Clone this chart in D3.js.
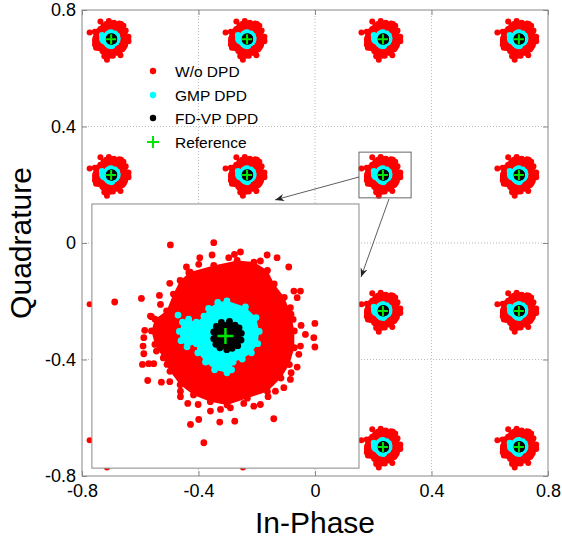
<!DOCTYPE html>
<html><head><meta charset="utf-8">
<script src="https://cdn.jsdelivr.net/npm/d3@7"></script>
<style>body{margin:0;background:#fff} svg{display:block} text{font-family:"Liberation Sans",Arial,Helvetica,sans-serif}</style>
</head><body><svg id="c" width="562" height="541"></svg>
<script>
// ---- data ----
const levels = [-0.7, -0.2333, 0.2333, 0.7];
const tickValues = [-0.8, -0.4, 0, 0.4, 0.8];
const tickLabels = ["-0.8", "-0.4", "0", "0.4", "0.8"];
const gridValues = [-0.4, 0, 0.4];
const seriesNames = ["W/o DPD", "GMP DPD", "FD-VP DPD", "Reference"];
const seriesColors = ["#ff0000", "#00ffff", "#000000", "#00e600"];
// offsets (dI, dQ) of the received symbols around each reference point
const redCore = [[-0.0235,0.0426],[-0.0078,0.0470],[0.0078,0.0504],[0.0190,0.0493],[0.0280,0.0437],[0.0325,0.0347],[0.0392,0.0258],[0.0437,0.0146],[0.0459,0.0034],[0.0459,-0.0078],[0.0426,-0.0190],[0.0370,-0.0280],[0.0280,-0.0370],[0.0146,-0.0414],[0.0011,-0.0459],[-0.0101,-0.0437],[-0.0213,-0.0392],[-0.0302,-0.0325],[-0.0370,-0.0235],[-0.0414,-0.0146],[-0.0470,-0.0056],[-0.0493,0.0034],[-0.0470,0.0112],[-0.0392,0.0168],[-0.0347,0.0280],[-0.0302,0.0370]];
const redScatter = [[-0.0367,0.0607],[-0.0078,0.0622],[-0.0738,0.0227],[-0.0560,0.0251],[-0.0440,0.0271],[-0.0493,0.0129],[-0.0538,0.0038],[-0.0544,-0.0011],[-0.0549,-0.0067],[-0.0544,-0.0118],[-0.0511,-0.0184],[-0.0478,-0.0184],[-0.0553,-0.0189],[-0.0518,-0.0296],[-0.0427,-0.0307],[-0.0371,-0.0304],[-0.0300,-0.0404],[-0.0251,-0.0449],[-0.0182,-0.0456],[-0.0233,-0.0589],[-0.0178,-0.0556],[-0.0038,-0.0573],[0.0062,-0.0567],[-0.0144,-0.0711],[-0.0100,-0.0500],[-0.0033,-0.0489],[0.0033,-0.0478],[0.0122,-0.0449],[0.0189,-0.0467],[0.0233,-0.0456],[0.0322,-0.0551],[0.0284,-0.0404],[0.0333,-0.0367],[0.0389,-0.0344],[0.0433,-0.0289],[0.0438,-0.0244],[0.0478,-0.0207],[0.0489,-0.0122],[0.0500,-0.0067],[0.0533,0.0011],[0.0589,-0.0011],[0.0596,0.0084],[0.0596,-0.0073],[0.0504,0.0071],[0.0422,0.0460],[0.0344,0.0522],[0.0278,0.0540],[0.0233,0.0500],[0.0100,0.0560],[0.0060,0.0544],[0.0022,0.0522],[-0.0089,0.0540],[-0.0171,0.0522],[-0.0178,0.0478],[-0.0260,0.0460],[-0.0244,0.0422],[-0.0371,0.0351],[-0.0433,0.0211],[-0.0500,0.0133],[0.0500,0.0300],[0.0456,0.0300],[0.0478,0.0256],[0.0433,0.0189],[0.0451,0.0111],[-0.0460,-0.0100],[-0.0389,-0.0189],[-0.0300,-0.0367]];
const cyanCore = [[0.0010,0.0235],[0.0133,0.0194],[0.0204,0.0123],[0.0225,0.0031],[0.0215,-0.0051],[0.0173,-0.0112],[0.0112,-0.0153],[0.0051,-0.0173],[0.0041,-0.0225],[0.0010,-0.0245],[-0.0072,-0.0225],[-0.0133,-0.0173],[-0.0184,-0.0112],[-0.0194,-0.0051],[-0.0256,-0.0072],[-0.0296,-0.0031],[-0.0307,0.0031],[-0.0286,0.0092],[-0.0245,0.0112],[-0.0194,0.0092],[-0.0143,0.0133],[-0.0112,0.0184],[-0.0051,0.0225]];
const cyanScatter = [[-0.0316,0.0140]];
const blackCore = [[-0.0027,0.0091],[0.0027,0.0097],[0.0064,0.0073],[0.0091,0.0055],[0.0106,0.0018],[0.0104,-0.0027],[0.0082,-0.0064],[0.0045,-0.0082],[0.0009,-0.0091],[-0.0037,-0.0078],[-0.0064,-0.0055],[-0.0078,-0.0018],[-0.0078,0.0027],[-0.0060,0.0064]];
const blackScatter = [];
// zoom box, inset placement and arrows (data coordinates of main axes)
const zoomCenter = [0.2333, 0.2333];
const zoomBoxI = [0.151, 0.330];
const zoomBoxQ = [0.155, 0.312];
const insetPosI = [-0.766, 0.151];
const insetPosQ = [-0.773, 0.134];
const insetDomainI = [0.1443, 0.3223];
const insetDomainQ = [0.1453, 0.3213];
const arrows = [[[0.151, 0.2266], [-0.137, 0.148]], [[0.254, 0.151], [0.158, -0.117]]];

// ---- drawing ----
const svg = d3.select("#c");
const x = d3.scaleLinear([-0.8, 0.8], [82, 548]);
const y = d3.scaleLinear([-0.8, 0.8], [476, 10]);

svg.append("rect").attr("width", 562).attr("height", 541).attr("fill", "#fff");

const defs = svg.append("defs");
defs.append("clipPath").attr("id", "clipMain").append("rect")
  .attr("x", x(-0.8)).attr("y", y(0.8)).attr("width", x(0.8) - x(-0.8)).attr("height", y(-0.8) - y(0.8));
defs.append("marker").attr("id", "arr").attr("viewBox", "0 0 10 10").attr("refX", 10).attr("refY", 5)
  .attr("markerWidth", 9).attr("markerHeight", 9).attr("markerUnits", "userSpaceOnUse").attr("orient", "auto")
  .append("path").attr("d", "M0,1 L10,5 L0,9 L3,5 Z").attr("fill", "#222");

// grid
const grid = svg.append("g");
grid.selectAll(".gx").data(gridValues).join("line")
  .attr("x1", d => x(d)).attr("x2", d => x(d)).attr("y1", y(0.8)).attr("y2", y(-0.8))
  .attr("stroke", "#aaa").attr("stroke-width", 0.8).attr("stroke-dasharray", "1,2");
grid.selectAll(".gy").data(gridValues).join("line")
  .attr("y1", d => y(d)).attr("y2", d => y(d)).attr("x1", x(-0.8)).attr("x2", x(0.8))
  .attr("stroke", "#aaa").attr("stroke-width", 0.8).attr("stroke-dasharray", "1,2");

// axes
const fmt = (d, i) => tickLabels[i];
function styleAxis(g) {
  g.select(".domain").remove();
  g.selectAll(".tick line").attr("stroke", "#888");
  g.selectAll(".tick text").attr("fill", "#000").style("font-size", "18px")
    .style("font-family", '"Liberation Sans", Arial, sans-serif');
}
svg.append("g").attr("transform", `translate(0,${y(-0.8)})`)
  .call(d3.axisBottom(x).tickValues(tickValues).tickFormat(fmt).tickSizeInner(-5).tickSizeOuter(0).tickPadding(8)).call(styleAxis);
svg.append("g").attr("transform", `translate(${x(-0.8)},0)`)
  .call(d3.axisLeft(y).tickValues(tickValues).tickFormat(fmt).tickSizeInner(-5).tickSizeOuter(0).tickPadding(6)).call(styleAxis);
svg.append("g").attr("transform", `translate(0,${y(0.8)})`)
  .call(d3.axisTop(x).tickValues(tickValues).tickFormat("").tickSizeInner(-5).tickSizeOuter(0)).call(styleAxis);
svg.append("g").attr("transform", `translate(${x(0.8)},0)`)
  .call(d3.axisRight(y).tickValues(tickValues).tickFormat("").tickSizeInner(-5).tickSizeOuter(0)).call(styleAxis);

// clouds
function drawCloud(g, sx, sy, cx, cy, core, scatter, color, r) {
  const line = d3.line().x(d => sx(cx + d[0])).y(d => sy(cy + d[1])).curve(d3.curveLinearClosed);
  if (core.length) g.append("path").attr("d", line(core)).attr("fill", color);
  g.append("g").selectAll("circle").data(core.concat(scatter)).join("circle")
    .attr("cx", d => sx(cx + d[0])).attr("cy", d => sy(cy + d[1])).attr("r", r).attr("fill", color);
}
function drawCross(g, sx, sy, cx, cy, a, w) {
  g.append("path").attr("d", `M${sx(cx) - a},${sy(cy)}H${sx(cx) + a}M${sx(cx)},${sy(cy) - a}V${sy(cy) + a}`)
    .attr("stroke", seriesColors[3]).attr("stroke-width", w).attr("fill", "none");
}
const centers = [];
levels.forEach(i => levels.forEach(q => centers.push([i, q])));
const plot = svg.append("g").attr("clip-path", "url(#clipMain)");
centers.forEach(c => drawCloud(plot, x, y, c[0], c[1], redCore, redScatter, seriesColors[0], 3));
centers.forEach(c => drawCloud(plot, x, y, c[0], c[1], cyanCore, cyanScatter, seriesColors[1], 3));
centers.forEach(c => drawCloud(plot, x, y, c[0], c[1], blackCore, blackScatter, seriesColors[2], 3));
centers.forEach(c => drawCross(plot, x, y, c[0], c[1], 5, 2));

// frame
svg.append("rect").attr("x", x(-0.8)).attr("y", y(0.8)).attr("width", x(0.8) - x(-0.8)).attr("height", y(-0.8) - y(0.8))
  .attr("fill", "none").attr("stroke", "#888").attr("stroke-width", 1);

// legend
const leg = svg.append("g");
const legY = [71, 95, 118, 142];
seriesNames.forEach((n, i) => {
  if (i < 3) leg.append("circle").attr("cx", 153).attr("cy", legY[i]).attr("r", 3.2).attr("fill", seriesColors[i]);
  else leg.append("path").attr("d", `M147,${legY[i]}H159M153,${legY[i] - 6}V${legY[i] + 6}`).attr("stroke", seriesColors[3]).attr("stroke-width", 2);
  leg.append("text").attr("x", 175).attr("y", legY[i]).attr("dy", "0.36em").style("font-size", "15.5px").text(n);
});

// zoom box
svg.append("rect").attr("x", x(zoomBoxI[0])).attr("y", y(zoomBoxQ[1]))
  .attr("width", x(zoomBoxI[1]) - x(zoomBoxI[0])).attr("height", y(zoomBoxQ[0]) - y(zoomBoxQ[1]))
  .attr("fill", "none").attr("stroke", "#666").attr("stroke-width", 1);

// inset
const ix = d3.scaleLinear(insetDomainI, [x(insetPosI[0]), x(insetPosI[1])]);
const iy = d3.scaleLinear(insetDomainQ, [y(insetPosQ[0]), y(insetPosQ[1])]);
defs.append("clipPath").attr("id", "clipInset").append("rect")
  .attr("x", x(insetPosI[0])).attr("y", y(insetPosQ[1])).attr("width", x(insetPosI[1]) - x(insetPosI[0])).attr("height", y(insetPosQ[0]) - y(insetPosQ[1]));
svg.append("rect").attr("x", x(insetPosI[0])).attr("y", y(insetPosQ[1]))
  .attr("width", x(insetPosI[1]) - x(insetPosI[0])).attr("height", y(insetPosQ[0]) - y(insetPosQ[1])).attr("fill", "#fff");
const inset = svg.append("g").attr("clip-path", "url(#clipInset)");
drawCloud(inset, ix, iy, zoomCenter[0], zoomCenter[1], redCore, redScatter, seriesColors[0], 3.4);
drawCloud(inset, ix, iy, zoomCenter[0], zoomCenter[1], cyanCore, cyanScatter, seriesColors[1], 3.4);
drawCloud(inset, ix, iy, zoomCenter[0], zoomCenter[1], blackCore, blackScatter, seriesColors[2], 3.4);
drawCross(inset, ix, iy, zoomCenter[0], zoomCenter[1], 8, 2.5);
svg.append("rect").attr("x", x(insetPosI[0])).attr("y", y(insetPosQ[1]))
  .attr("width", x(insetPosI[1]) - x(insetPosI[0])).attr("height", y(insetPosQ[0]) - y(insetPosQ[1]))
  .attr("fill", "none").attr("stroke", "#888").attr("stroke-width", 1);

// arrows
arrows.forEach(a => svg.append("line").attr("x1", x(a[0][0])).attr("y1", y(a[0][1])).attr("x2", x(a[1][0])).attr("y2", y(a[1][1]))
  .attr("stroke", "#333").attr("stroke-width", 0.8).attr("marker-end", "url(#arr)"));

// axis titles
svg.append("text").attr("x", 315).attr("y", 533).attr("text-anchor", "middle").style("font-size", "30px").text("In-Phase");
svg.append("text").attr("transform", "translate(31,243) rotate(-90)").attr("text-anchor", "middle").style("font-size", "30px").text("Quadrature");
</script></body></html>
